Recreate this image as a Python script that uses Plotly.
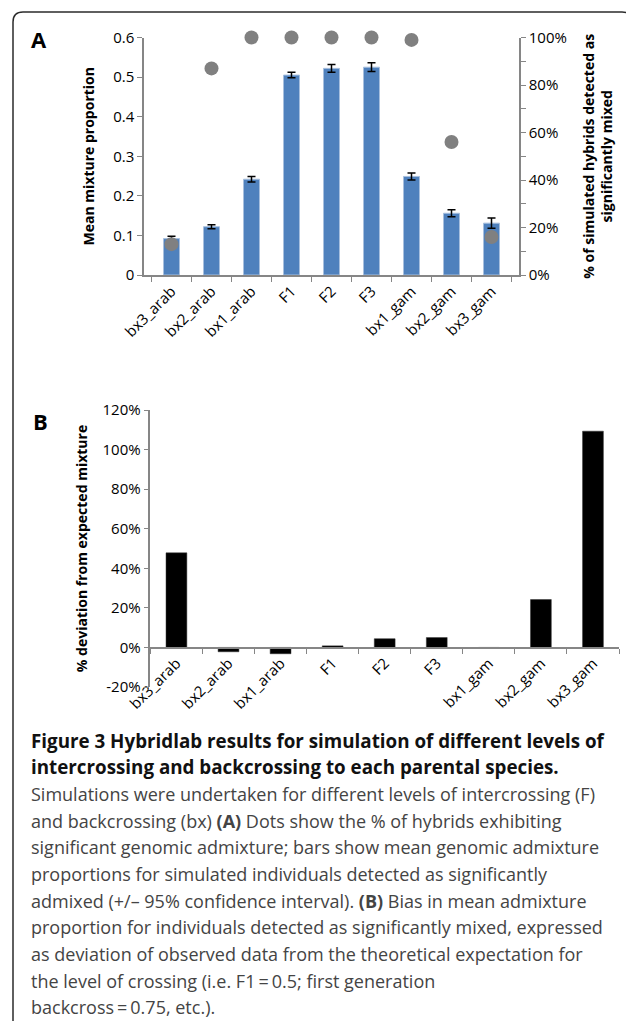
import plotly.graph_objects as go

# ---------------- data ----------------
categories = ["bx3_arab", "bx2_arab", "bx1_arab", "F1", "F2", "F3", "bx1_gam", "bx2_gam", "bx3_gam"]
mean_mixture = [0.092, 0.122, 0.242, 0.505, 0.522, 0.525, 0.249, 0.156, 0.131]
ci95 = [0.006, 0.005, 0.007, 0.007, 0.010, 0.011, 0.009, 0.009, 0.013]
pct_detected = [13, 87, 100, 100, 100, 100, 99, 56, 16]
deviation_pct = [47.8, -2.2, -3.2, 0.8, 4.4, 5.0, -0.3, 24.2, 109.3]

left_ticks_a = [0, 0.1, 0.2, 0.3, 0.4, 0.5, 0.6]
left_ticktext_a = ["0", "0.1", "0.2", "0.3", "0.4", "0.5", "0.6"]
right_ticks_a = [0, 20, 40, 60, 80, 100]
right_ticktext_a = ["0%", "20%", "40%", "60%", "80%", "100%"]
ticks_b = [-20, 0, 20, 40, 60, 80, 100, 120]
ticktext_b = ["-20%", "0%", "20%", "40%", "60%", "80%", "100%", "120%"]

caption_lines = [
    "<b>Figure 3 Hybridlab results for simulation of different levels of</b>",
    "<b>intercrossing and backcrossing to each parental species.</b>",
    "Simulations were undertaken for different levels of intercrossing (F)",
    "and backcrossing (bx) <b>(A)</b> Dots show the % of hybrids exhibiting",
    "significant genomic admixture; bars show mean genomic admixture",
    "proportions for simulated individuals detected as significantly",
    "admixed (+/\u2013 95% confidence interval). <b>(B)</b> Bias in mean admixture",
    "proportion for individuals detected as significantly mixed, expressed",
    "as deviation of observed data from the theoretical expectation for",
    "the level of crossing (i.e. F1\u2009=\u20090.5; first generation",
    "backcross\u2009=\u20090.75, etc.).",
]

# ---------------- layout helpers ----------------
W, H = 634, 1023
OFF = 8  # page body margin
def fx(x):
    return (x - OFF) / W
def fy(y):
    return 1 - (y - OFF) / H

FONT = "Open Sans"
AXIS_GRAY = "#868686"

fig = go.Figure()

# Panel A bars
fig.add_trace(go.Bar(
    x=categories, y=mean_mixture, width=0.4,
    marker=dict(color="#4F81BD", line=dict(color="#A7BFDE", width=1)),
    error_y=dict(type="data", array=ci95, color="black", thickness=1.5, width=4),
    xaxis="x", yaxis="y", showlegend=False,
))
# Panel A dots
fig.add_trace(go.Scatter(
    x=categories, y=pct_detected, mode="markers", cliponaxis=False,
    marker=dict(color="#808080", size=14),
    xaxis="x", yaxis="y2", showlegend=False,
))
# Panel B bars
fig.add_trace(go.Bar(
    x=categories, y=deviation_pct, width=0.4,
    marker=dict(color="black", line=dict(color="#333333", width=0.5)),
    xaxis="x2", yaxis="y3", showlegend=False,
))

tickfont = dict(family=FONT, size=15, color="black")
titlefont = dict(family=FONT, size=14, color="black", weight="bold")

common = dict(automargin=False, showgrid=False, zeroline=False,
              showline=True, linecolor=AXIS_GRAY, linewidth=1.5,
              ticks="outside", ticklen=5, tickcolor=AXIS_GRAY, tickwidth=1,
              tickfont=tickfont)

fig.update_layout(
    template="none",
    width=W, height=H,
    margin=dict(l=0, r=0, t=0, b=0, pad=0),
    paper_bgcolor="white", plot_bgcolor="white",
    font=dict(family=FONT, color="black"),
    xaxis=dict(
        domain=[fx(144), fx(519)], anchor="y", type="category",
        tickson="boundaries", tickangle=-45, **common,
    ),
    yaxis=dict(
        domain=[fy(275), fy(37.5)], anchor="x", range=[0, 0.6],
        tickvals=left_ticks_a, ticktext=left_ticktext_a,
        title=dict(text="Mean mixture proportion", font=titlefont, standoff=15),
        **common,
    ),
    yaxis2=dict(
        overlaying="y", anchor="x", side="right", range=[0, 100],
        tickvals=right_ticks_a, ticktext=right_ticktext_a,
        minor=dict(dtick=10, ticks="outside", ticklen=5, tickcolor=AXIS_GRAY, showgrid=False),
        title=dict(text="% of simulated hybrids detected as<br>significantly mixed",
                   font=titlefont, standoff=18),
        **common,
    ),
    xaxis2=dict(
        domain=[fx(150.4), fx(619)], anchor="free", position=fy(648), type="category",
        tickson="boundaries", tickangle=-45, **common,
    ),
    yaxis3=dict(
        domain=[fy(687), fy(410)], anchor="x2", range=[-20, 120],
        tickvals=ticks_b, ticktext=ticktext_b,
        title=dict(text="% deviation from expected mixture", font=titlefont, standoff=12),
        **common,
    ),
)

# panel letters
fig.add_annotation(text="<b>A</b>", x=fx(29), y=fy(39), xref="paper", yref="paper",
                   xanchor="left", yanchor="middle", showarrow=False,
                   font=dict(family=FONT, size=22, color="black"))
fig.add_annotation(text="<b>B</b>", x=fx(31), y=fy(421), xref="paper", yref="paper",
                   xanchor="left", yanchor="middle", showarrow=False,
                   font=dict(family=FONT, size=22, color="black"))

# caption
for i, line in enumerate(caption_lines):
    is_title = i < 2
    fig.add_annotation(text=line, x=fx(28.5), y=fy(740.7 + 26.67 * i),
                       xref="paper", yref="paper", xanchor="left", yanchor="middle",
                       showarrow=False,
                       font=dict(family=FONT, size=18.8 if is_title else 18,
                                 color="#111111" if is_title else "#444444"))

# rounded frame (left + top edges)
r = 10
x0, y0, x1, y1 = 13, 12, 632, 1021
path = (f"M {fx(x0)} {fy(y1)} L {fx(x0)} {fy(y0 + r)} "
        f"Q {fx(x0)} {fy(y0)} {fx(x0 + r)} {fy(y0)} "
        f"L {fx(x1 - r)} {fy(y0)} Q {fx(x1)} {fy(y0)} {fx(x1)} {fy(y0 + r)} "
        f"L {fx(x1)} {fy(y0 + 16)}")
fig.add_shape(type="path", path=path, xref="paper", yref="paper",
              line=dict(color="#2b2b2b", width=1.5))

fig.write_html("out.html")
